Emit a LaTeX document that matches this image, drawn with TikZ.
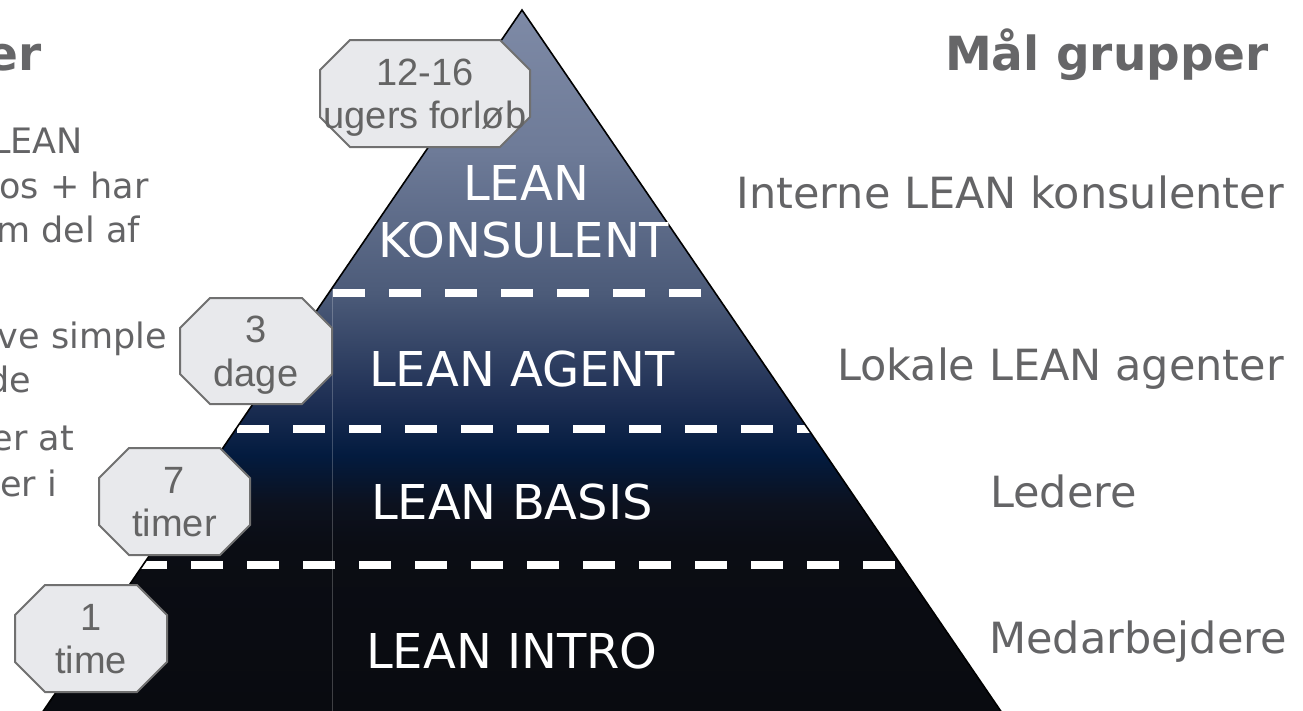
\documentclass[tikz,border=0pt]{standalone}
\usepackage{fontspec}
\setmainfont{DejaVu Sans}
\newfontfamily\boxfont{Liberation Sans}

% text and frame colours
\definecolor{labelgray}{RGB}{100,100,102}
\definecolor{titlegray}{RGB}{102,102,104}
\definecolor{boxfill}{RGB}{232,233,236}
\definecolor{boxline}{RGB}{112,112,112}
\definecolor{boxtext}{RGB}{100,100,100}

% pyramid fill, from apex (A) to base (H)
\definecolor{pyrA}{RGB}{126,138,166}
\definecolor{pyrB}{RGB}{110,123,152}
\definecolor{pyrC}{RGB}{76,91,121}
\definecolor{pyrD}{RGB}{30,47,84}
\definecolor{pyrE}{RGB}{3,27,63}
\definecolor{pyrF}{RGB}{12,17,30}
\definecolor{pyrG}{RGB}{11,13,20}
\definecolor{pyrH}{RGB}{9,11,16}

\pgfdeclareverticalshading{pyramidfade}{100bp}{%
  color(0bp)=(pyrH); color(25bp)=(pyrH); color(36.89bp)=(pyrG);
  color(39.74bp)=(pyrF); color(43.30bp)=(pyrE); color(47.22bp)=(pyrD);
  color(54.84bp)=(pyrC); color(65.03bp)=(pyrB); color(75bp)=(pyrA);
  color(100bp)=(pyrA)}

% octagonal frame around a named rectangle node, corners cut by 30pt
\newcommand{\tagframe}[1]{%
  \filldraw[tagedge]
    ([xshift=30pt]#1.north west) -- ([xshift=-30pt]#1.north east)
    -- ([yshift=-30pt]#1.north east) -- ([yshift=30pt]#1.south east)
    -- ([xshift=-30pt]#1.south east) -- ([xshift=30pt]#1.south west)
    -- ([yshift=30pt]#1.south west) -- ([yshift=-30pt]#1.north west)
    -- cycle;}

\begin{document}
\begin{tikzpicture}[x=1pt,y=-1pt,
  tier/.style={text=white, inner sep=0pt, font=\fontsize{48}{56}\selectfont},
  group/.style={text=labelgray, inner sep=0pt, font=\fontsize{43}{50}\selectfont},
  note/.style={text=labelgray, inner sep=0pt, font=\fontsize{35}{45}\selectfont},
  heading/.style={text=titlegray, inner sep=0pt, font=\bfseries\fontsize{47}{54}\selectfont},
  timebox/.style={rectangle, inner sep=0pt, outer sep=0pt},
  tagedge/.style={fill=boxfill, draw=boxline, line width=2pt, line join=miter},
  boxlabel/.style={text=boxtext, inner sep=0pt, anchor=base,
    font=\boxfont\fontsize{38}{44}\selectfont},
  tierline/.style={white, line width=8pt, dash pattern=on 32pt off 24pt},
  divider/.style={white, opacity=0.22, line width=1pt},
  edge/.style={black, line width=1.6pt, line join=miter}]

\useasboundingbox (0,0) rectangle (1303,710);

% pyramid body
\coordinate (apex) at (522,10);
\coordinate (bl) at (42.6,712);
\coordinate (br) at (1001.4,712);
\shade[shading=pyramidfade] (apex) -- (br) -- (bl) -- cycle;

\begin{scope}
  \clip (apex) -- (br) -- (bl) -- cycle;
  \draw[divider] (332,289) -- (332,712);
  \draw[tierline] (277,293) -- (760,293);
  \draw[tierline] (181,429) -- (860,429);
  \draw[tierline] (135,565) -- (960,565);
\end{scope}
\draw[edge] (bl) -- (apex) -- (br);

% tier names
\node[tier, anchor=base] (konsA) at (526,200) {LEAN};
\node[tier, anchor=base] (konsB) at (524,257) {KONSULENT};
\node[tier, anchor=base] (agent) at (522,386) {LEAN AGENT};
\node[tier, anchor=base] (basis) at (512,519) {LEAN BASIS};
\node[tier, anchor=base] (intro) at (512,668) {LEAN INTRO};

% duration tags
\node[timebox, minimum width=210pt, minimum height=107pt] (d1) at (425,93.5) {};
\tagframe{d1}
\node[boxlabel] (d1a) at (425,85) {12-16};
\node[boxlabel] (d1b) at (425,128.5) {ugers forløb};

\node[timebox, minimum width=152pt, minimum height=106pt] (d2) at (256,351) {};
\tagframe{d2}
\node[boxlabel] (d2a) at (256,342.5) {3};
\node[boxlabel] (d2b) at (256,386) {dage};

\node[timebox, minimum width=151pt, minimum height=107pt] (d3) at (174.5,501.5) {};
\tagframe{d3}
\node[boxlabel] (d3a) at (174.5,493) {7};
\node[boxlabel] (d3b) at (174.5,536.5) {timer};

\node[timebox, minimum width=152pt, minimum height=107pt] (d4) at (91,638.5) {};
\tagframe{d4}
\node[boxlabel] (d4a) at (91,630) {1};
\node[boxlabel] (d4b) at (91,673.5) {time};

% target groups
\node[heading, anchor=base east] (maal) at (1269,70) {Mål grupper};
\node[group, anchor=base east] (g1) at (1284,208) {Interne LEAN konsulenter};
\node[group, anchor=base east] (g2) at (1284,380) {Lokale LEAN agenter};
\node[group, anchor=base west] (g3) at (990,507) {Ledere};
\node[group, anchor=base west] (g4) at (989,653) {Medarbejdere};

% left column, running past the left edge
\node[heading, anchor=base east] (lefthead) at (42,70) {er};
\node[note, anchor=base east] (n1) at (83,153) {LEAN};
\node[note, anchor=base east] (n2) at (149,198) {os + har};
\node[note, anchor=base east] (n3) at (140,242) {m del af};
\node[note, anchor=base east] (n4) at (167,348) {ve simple};
\node[note, anchor=base east] (n5) at (31,392) {de};
\node[note, anchor=base east] (n6) at (74,450) {er at};
\node[note, anchor=base east] (n7) at (57,496) {er i};
\end{tikzpicture}
\end{document}
